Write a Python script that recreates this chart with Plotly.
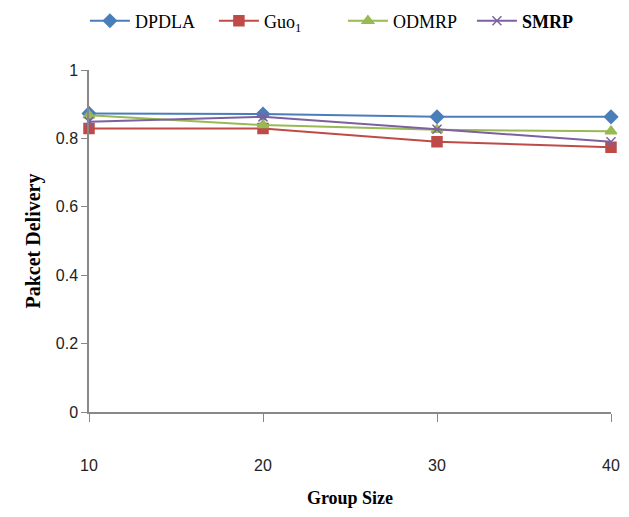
import plotly.graph_objects as go

group_size = [10, 20, 30, 40]
dpdla = [0.873, 0.871, 0.863, 0.863]
guo = [0.829, 0.829, 0.790, 0.774]
odmrp = [0.868, 0.839, 0.825, 0.821]
smrp = [0.849, 0.863, 0.827, 0.790]

series = [
    ("DPDLA", dpdla, "#4A7EBB", "diamond", False),
    ("Guo1", guo, "#BE4B48", "square", False),
    ("ODMRP", odmrp, "#98B954", "triangle-up", False),
    ("SMRP", smrp, "#7D60A0", "x-thin", True),
]

fig = go.Figure()
for name, vals, color, sym, bold in series:
    label = "Guo<sub>1</sub>" if name == "Guo1" else name
    if bold:
        label = "<b>" + label + "</b>"
    fig.add_trace(go.Scatter(
        x=group_size, y=vals, name=label, mode="lines+markers",
        line=dict(color=color, width=2),
        marker=dict(symbol=sym, size=10 if sym != "x-thin" else 9, color=color,
                    line=dict(color=color, width=1.5)),
        cliponaxis=False,
    ))

tick_font = dict(family="Liberation Sans Narrow, Liberation Sans", size=16, color="#222222")

fig.update_layout(
    width=629, height=517,
    margin=dict(l=89, r=18, t=70, b=105, autoexpand=False),
    paper_bgcolor="white", plot_bgcolor="white",
    showlegend=True,
    legend=dict(orientation="h", xref="container", x=0.135, xanchor="left",
                yref="container", y=0.995, yanchor="top",
                font=dict(family="Liberation Serif", size=18, color="black"),
                entrywidth=74, entrywidthmode="pixels", itemwidth=40, tracegroupgap=0),
    xaxis=dict(range=[10, 40], tickvals=group_size, ticktext=[str(v) for v in group_size],
               showgrid=False, zeroline=False, showline=True, linecolor="#888888", linewidth=1.5,
               ticks="outside", ticklen=8, tickcolor="#888888", ticklabelstandoff=30,
               tickfont=tick_font,
               title=dict(text="<b>Group Size</b>", font=dict(family="Liberation Serif", size=18, color="black"),
                          standoff=18)),
    yaxis=dict(range=[0, 1], tickvals=[0, 0.2, 0.4, 0.6, 0.8, 1],
               ticktext=["0", "0.2", "0.4", "0.6", "0.8", "1"],
               showgrid=False, zeroline=False, showline=True, linecolor="#888888", linewidth=1.5,
               ticks="outside", ticklen=6, tickcolor="#888888",
               tickfont=tick_font,
               title=dict(text="<b>Pakcet Delivery</b>", font=dict(family="Liberation Serif", size=20, color="black"),
                          standoff=10)),
)

fig.write_html("out.html")
